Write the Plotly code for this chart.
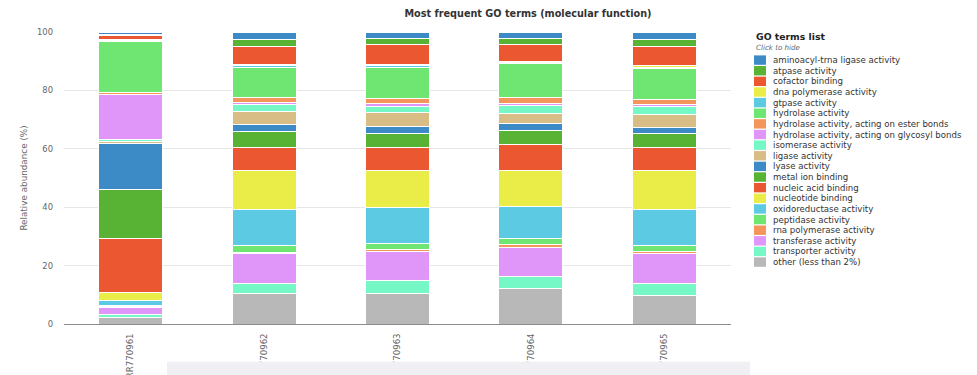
import plotly.graph_objects as go

# Samples on the x axis
samples = ["SRR770961", "SRR770962", "SRR770963", "SRR770964", "SRR770965"]

# Relative abundance (%) of each GO term per sample
aminoacyl_trna_ligase = [0.7, 2.5, 2.3, 2.1, 2.4]
atpase = [0.6, 2.4, 2.1, 2.1, 2.7]
cofactor_binding = [1.4, 6.3, 6.7, 5.9, 6.2]
dna_polymerase = [0.2, 0.2, 0.2, 0.2, 0.7]
gtpase = [0.3, 0.6, 0.7, 0.6, 0.6]
hydrolase = [17.4, 10.6, 10.9, 11.4, 10.5]
hydrolase_ester = [0.7, 1.6, 1.7, 2.2, 1.8]
hydrolase_glycosyl = [15.5, 0.7, 0.8, 0.8, 0.7]
isomerase = [0.8, 2.4, 2.3, 2.6, 2.5]
ligase = [0.7, 4.5, 4.6, 3.5, 4.6]
lyase = [15.8, 2.4, 2.4, 2.5, 2.2]
metal_ion_binding = [16.7, 5.4, 4.9, 4.7, 4.8]
nucleic_acid_binding = [18.3, 7.8, 7.9, 8.8, 7.9]
nucleotide_binding = [2.8, 13.5, 12.6, 12.2, 13.1]
oxidoreductase = [1.6, 12.3, 12.3, 11.1, 12.4]
peptidase = [0.5, 2.2, 2.1, 2.1, 2.1]
rna_polymerase = [0.5, 0.6, 0.8, 1.0, 0.7]
transferase = [2.4, 10.0, 9.9, 10.0, 10.3]
transporter = [0.8, 3.7, 4.2, 4.2, 4.0]
other = [2.3, 10.3, 10.6, 12.0, 9.8]

# Legend labels, listed top to bottom (top of the stack first)
term_names = [
    "aminoacyl-trna ligase activity",
    "atpase activity",
    "cofactor binding",
    "dna polymerase activity",
    "gtpase activity",
    "hydrolase activity",
    "hydrolase activity, acting on ester bonds",
    "hydrolase activity, acting on glycosyl bonds",
    "isomerase activity",
    "ligase activity",
    "lyase activity",
    "metal ion binding",
    "nucleic acid binding",
    "nucleotide binding",
    "oxidoreductase activity",
    "peptidase activity",
    "rna polymerase activity",
    "transferase activity",
    "transporter activity",
    "other (less than 2%)",
]
term_values = [
    aminoacyl_trna_ligase, atpase, cofactor_binding, dna_polymerase, gtpase,
    hydrolase, hydrolase_ester, hydrolase_glycosyl, isomerase, ligase,
    lyase, metal_ion_binding, nucleic_acid_binding, nucleotide_binding,
    oxidoreductase, peptidase, rna_polymerase, transferase, transporter, other,
]

palette = ["#3d8bc6", "#58b233", "#eb5730", "#eaed47", "#5ccae3",
           "#70e672", "#f4955c", "#e095f8", "#76f7c6", "#d8bd87"]
term_colors = [palette[i % 10] for i in range(19)] + ["#b8b8b8"]

FONT = "DejaVu Sans"

# plot area in pixels
L, R, T, B = 64, 731, 32.3, 324.3


def px(xp):
    return (xp - L) / (R - L)


def py(yp):
    return (B - yp) / (B - T)


fig = go.Figure()
# stack from the bottom ("other") upwards
for name, vals, col in reversed(list(zip(term_names, term_values, term_colors))):
    fig.add_trace(go.Bar(
        x=samples, y=vals, name=name,
        marker=dict(color=col, line=dict(color="white", width=1)),
        showlegend=False,
    ))

shapes = []
annotations = []

# hand-built legend
annotations.append(dict(
    text="GO terms list", xref="paper", yref="paper",
    x=px(754), y=py(37), xanchor="left", yanchor="middle", showarrow=False,
    font=dict(family=FONT, size=9.3, color="#222222", weight="bold"),
))
annotations.append(dict(
    text="<i>Click to hide</i>", xref="paper", yref="paper",
    x=px(754), y=py(48), xanchor="left", yanchor="middle", showarrow=False,
    font=dict(family=FONT, size=7.1, color="#666666"),
))
step = 10.63
for i, (name, col) in enumerate(zip(term_names, term_colors)):
    yc = 60.4 + i * step
    shapes.append(dict(
        type="rect", xref="paper", yref="paper",
        x0=px(754), x1=px(766), y0=py(yc - 4.7), y1=py(yc + 4.7),
        fillcolor=col, line=dict(width=0), layer="above",
    ))
    annotations.append(dict(
        text=name, xref="paper", yref="paper",
        x=px(771), y=py(yc), xanchor="left", yanchor="middle", showarrow=False,
        font=dict(family=FONT, size=8.6, color="#333333"),
    ))

# light panel along the bottom edge
shapes.append(dict(
    type="rect", xref="paper", yref="paper",
    x0=px(167), x1=px(750), y0=py(362), y1=py(380),
    fillcolor="#efeff4", line=dict(width=0), layer="above",
))

fig.update_layout(
    width=977, height=375,
    margin=dict(l=L, r=977 - R, t=T, b=375 - B, autoexpand=False),
    barmode="stack",
    bargap=0.52,
    plot_bgcolor="white",
    paper_bgcolor="white",
    font=dict(family=FONT, color="#666666"),
    title=dict(
        text="Most frequent GO terms (molecular function)",
        x=528 / 977, xanchor="center", xref="container",
        y=1 - 13.5 / 375, yanchor="middle", yref="container",
        font=dict(family=FONT, size=9.7, color="#333333", weight="bold"),
    ),
    xaxis=dict(
        tickangle=-90,
        tickfont=dict(family=FONT, size=8.6, color="#666666"),
        showline=True, linecolor="#8c8c8c", linewidth=1,
        ticks="", ticklabelstandoff=5,
        showgrid=False, zeroline=False,
    ),
    yaxis=dict(
        range=[0, 100],
        tickvals=[0, 20, 40, 60, 80, 100],
        tickfont=dict(family=FONT, size=8.4, color="#666666"),
        gridcolor="#e6e6e6", gridwidth=1,
        zeroline=False, showline=False,
        ticks="", ticklabelstandoff=10,
        title=dict(text="Relative abundance (%)", standoff=7,
                   font=dict(family=FONT, size=8.8, color="#666666")),
    ),
    shapes=shapes,
    annotations=annotations,
    showlegend=False,
)

fig.write_html("out.html")
